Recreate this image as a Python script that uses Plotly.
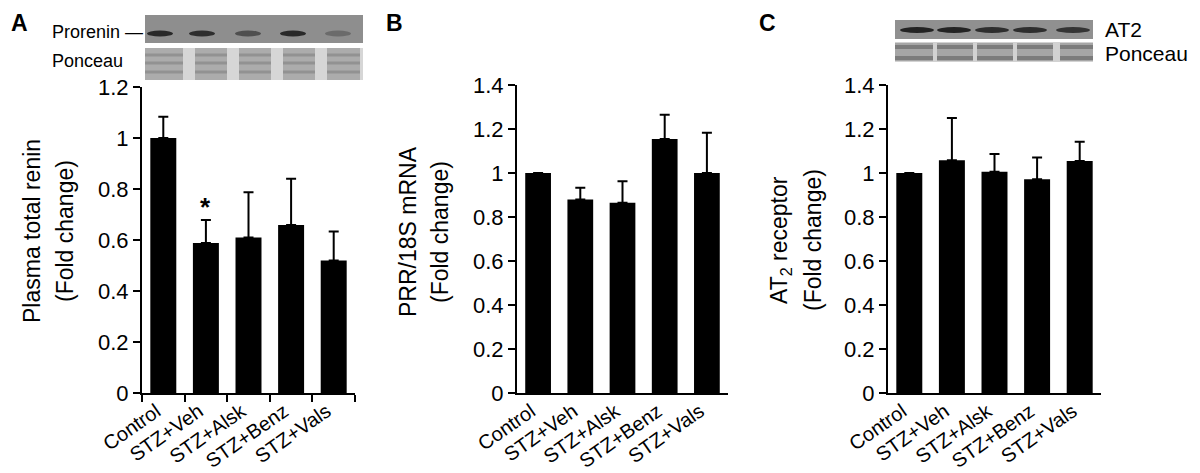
import plotly.graph_objects as go

# data
groups = ['Control', 'STZ+Veh', 'STZ+Alsk', 'STZ+Benz', 'STZ+Vals']

renin_mean = [1.0, 0.588, 0.61, 0.659, 0.52]
renin_upper = [1.083, 0.678, 0.787, 0.84, 0.633]

prr_mean = [1.0, 0.88, 0.865, 1.155, 1.0]
prr_upper = [1.0, 0.933, 0.963, 1.265, 1.183]

at2_mean = [1.0, 1.058, 1.006, 0.972, 1.055]
at2_upper = [1.0, 1.25, 1.086, 1.07, 1.142]

# relative band strength on the blots (decoration)
prorenin_bands = [0.9, 0.85, 0.55, 0.9, 0.3]
at2_bands = [0.95, 0.95, 0.85, 0.85, 0.8]

# the page body adds an 8px margin, so the figure is a bit smaller and
# reference pixel positions are shifted by that offset
OFF = 8
W, H = 1200 - OFF, 473 - OFF
FONT = 'Liberation Sans, Arial, sans-serif'


def px(x):
    return (x - OFF) / W


def py(y):
    return 1 - (y - OFF) / H


panels = [
    # means, upper, x-axis pixel span, top pixel, y max, ticks on x
    (renin_mean, renin_upper, (142, 355), 87, 1.2, True),
    (prr_mean, prr_upper, (517, 728), 85, 1.4, False),
    (at2_mean, at2_upper, (888, 1101), 85, 1.4, False),
]

fig = go.Figure()

for i, (mean, upper, (x0, x1), ytop, ymax, xticks) in enumerate(panels):
    n = '' if i == 0 else str(i + 1)
    err = [u - m for u, m in zip(upper, mean)]
    fig.add_trace(go.Bar(
        x=groups, y=mean, width=0.61,
        marker=dict(color='black', line=dict(width=0)),
        error_y=dict(type='data', array=err, arrayminus=[0] * len(err),
                     symmetric=False, color='black', thickness=2, width=5),
        xaxis='x' + n, yaxis='y' + n, showlegend=False,
    ))
    fig.update_layout(**{
        'xaxis' + n: dict(
            domain=[px(x0), px(x1)], anchor='y' + n, range=[-0.5, 4.5],
            showline=True, linecolor='black', linewidth=2, showgrid=False,
            tickangle=-35, tickfont=dict(size=20, color='black', family=FONT),
            ticks='outside' if xticks else '', ticklen=7, tickwidth=2,
            tickcolor='black', tickson='boundaries' if xticks else 'labels',
            zeroline=False, automargin=False, ticklabelshift=-7,
            ticklabelstandoff=-3,
        ),
        'yaxis' + n: dict(
            domain=[py(393), py(ytop)], anchor='x' + n, range=[0, ymax],
            dtick=0.2, showline=True, linecolor='black', linewidth=2,
            showgrid=False, zeroline=False, ticks='outside', ticklen=7,
            tickwidth=2, tickcolor='black',
            tickfont=dict(size=22, color='black', family=FONT),
            tickformat='~g', automargin=False,
        ),
    })

# y axis titles, two lines each
titles = [
    ('Plasma total renin', '(Fold change)', 32, 65, 231),
    ('PRR/18S mRNA', '(Fold change)', 408, 440, 232),
    ('AT<sub>2</sub> receptor', '(Fold change)', 780, 813, 240),
]
for l1, l2, xa, xb, yc in titles:
    for txt, xx in ((l1, xa), (l2, xb)):
        fig.add_annotation(text=txt, x=px(xx), y=py(yc), xref='paper',
                           yref='paper', textangle=-90, showarrow=False,
                           xanchor='center', yanchor='middle',
                           font=dict(size=23, color='black', family=FONT))

# panel letters
for letter, xx in (('A', 10), ('B', 385), ('C', 758)):
    fig.add_annotation(text='<b>%s</b>' % letter, x=px(xx), y=py(9),
                       xref='paper', yref='paper', showarrow=False,
                       xanchor='left', yanchor='top', borderpad=0,
                       font=dict(size=23, color='black', family=FONT))

# significance star above STZ+Veh
fig.add_annotation(text='<b>*</b>', x='STZ+Veh', y=renin_upper[1], xref='x',
                   yref='y', showarrow=False, yanchor='bottom', yshift=-4,
                   font=dict(size=26, color='black', family=FONT))

shapes = []


def rect(x0, y0, x1, y1, color):
    shapes.append(dict(type='rect', xref='paper', yref='paper',
                       x0=px(x0), x1=px(x1), y0=py(y1), y1=py(y0),
                       fillcolor=color, line=dict(width=0), layer='below'))


def band(xc, yc, w, h, strength):
    g = int(140 - 110 * strength)
    shapes.append(dict(type='circle', xref='paper', yref='paper',
                       x0=px(xc - w / 2), x1=px(xc + w / 2),
                       y0=py(yc + h / 2), y1=py(yc - h / 2),
                       fillcolor='rgb(%d,%d,%d)' % (g, g, g),
                       line=dict(width=0), layer='below'))


# blot A: prorenin strip
rect(145, 15, 363, 43, '#8e8e8e')
for xc, s in zip([160, 202, 248, 293, 338], prorenin_bands):
    band(xc, 33.5, 26, 6, s)
# blot A: ponceau strip
rect(145, 48, 363, 80, '#d6d6d6')
for lx0, lx1 in [(145, 183), (195, 227), (239, 271), (283, 315), (327, 360)]:
    rect(lx0, 48, lx1, 80, '#acacac')
    for yy in (55, 63, 72):
        rect(lx0, yy - 1.5, lx1, yy + 1.5, '#929292')

# blot C: AT2 strip
rect(895, 20, 1093, 39, '#909090')
for xc, s in zip([917, 954, 992, 1030, 1073], at2_bands):
    band(xc, 30, 34, 6, s)
# blot C: ponceau strip
rect(895, 42, 1093, 62, '#d2d2d2')
for lx0, lx1 in [(895, 933), (937, 973), (977, 1013), (1017, 1053), (1060, 1093)]:
    rect(lx0, 43, lx1, 61, '#a6a6a6')
    for yy in (47, 58):
        rect(lx0, yy - 2, lx1, yy + 2, '#7c7c7c')

# blot labels
labels = [
    ('Prorenin \u2014', 50, 32, 18),
    ('Ponceau', 50, 61, 18),
    ('AT2', 1103, 29, 21),
    ('Ponceau', 1103, 53, 21),
]
for txt, xx, yy, sz in labels:
    fig.add_annotation(text=txt, x=px(xx), y=py(yy), xref='paper',
                       yref='paper', showarrow=False, xanchor='left',
                       yanchor='middle',
                       font=dict(size=sz, color='black', family=FONT))

fig.update_layout(
    width=W, height=H,
    margin=dict(l=0, r=0, t=0, b=0),
    paper_bgcolor='white', plot_bgcolor='white',
    shapes=shapes,
    font=dict(family=FONT, color='black'),
    bargap=0.39,
)

fig.write_html('out.html')
